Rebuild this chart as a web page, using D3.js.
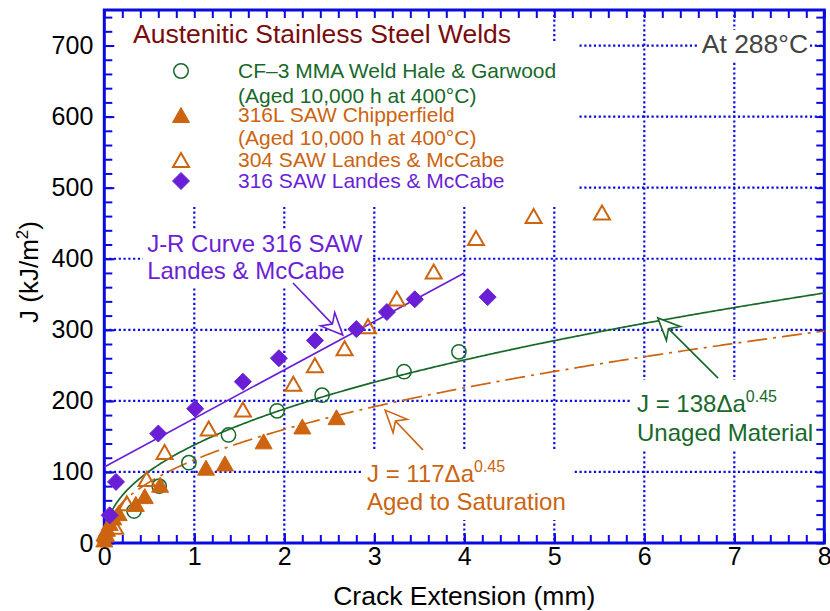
<!DOCTYPE html>
<html><head><meta charset="utf-8">
<script src="https://cdn.jsdelivr.net/npm/d3@7"></script>
<style>
body{margin:0;background:#fff;}
text{font-family:"Liberation Sans",Arial,sans-serif;}
</style></head>
<body><svg id="c" width="830" height="611"></svg>
<script>
// ---------- data ----------
const cf3Circles = [[0.33,45],[0.61,80],[0.94,113],[1.38,152],[1.92,186],[2.42,208],[3.33,241],[3.94,269]];
const saw316LFilled = [[0.0,5],[0.01,12],[0.03,20],[0.06,28],[0.10,36],[0.16,42],[0.35,55],[0.45,66],[0.62,82],[1.13,106],[1.34,112],[1.77,143],[2.20,164],[2.58,177]];
const saw304Open = [[0.01,14],[0.12,23],[0.25,56],[0.47,90],[0.67,128],[1.16,161],[1.54,188],[2.10,224],[2.34,250],[2.67,274],[2.93,305],[3.25,344],[3.66,382],[4.13,429],[4.77,460],[5.53,465]];
const saw316Diamonds = [[0.06,39],[0.13,86],[0.60,154],[1.01,189],[1.54,227],[1.94,260],[2.34,285],[2.80,301],[3.14,325],[3.45,343],[4.26,346]];
const jrLine316 = [[0,107],[4,380]];
const fitCoef = [138, 117];      // unaged, aged to saturation
const fitExp = 0.45;
const fitStart = [0.05, 0.1];
const xTicks = [0,1,2,3,4,5,6,7,8];
const yTicks = [0,100,200,300,400,500,600,700];
const legendLabels = ["CF\u20133 MMA Weld Hale & Garwood","(Aged 10,000 h at 400\u00b0C)","316L SAW Chipperfield","(Aged 10,000 h at 400\u00b0C)","304 SAW Landes & McCabe","316 SAW Landes & McCabe"];

// ---------- styles ----------
const C = {green:"#17692a", orange:"#cc6410", purple:"#6a1fd6", title:"#7a0c0c", blue:"#0a0ae0", gray:"#444"};
const FONT = '"Liberation Sans",Arial,sans-serif';

const svg = d3.select("#c");
const x = d3.scaleLinear([0,8],[104.3,824.3]);
const y = d3.scaleLinear([0,750],[543,10]);

// ---------- grid ----------
const grid = svg.append("g");
xTicks.filter(d=>d>0&&d<8).forEach(d=>grid.append("line").attr("x1",x(d)).attr("x2",x(d)).attr("y1",y(750)).attr("y2",y(0)));
yTicks.filter(d=>d>0).forEach(d=>grid.append("line").attr("x1",x(0)).attr("x2",x(8)).attr("y1",y(d)).attr("y2",y(d)));
grid.selectAll("line").attr("stroke",C.blue).attr("stroke-width",2.2).attr("stroke-dasharray","2.2,2.6");

// white knockouts behind text blocks
const boxes = [[105,12,530,42],[105,42,577,207],[698,30,810,62],[143,230,372,287],[630,380,822,450],[362,450,572,520],[362,450,380,541]];
svg.append("g").selectAll("rect").data(boxes).join("rect")
  .attr("x",d=>d[0]).attr("y",d=>d[1]).attr("width",d=>d[2]-d[0]).attr("height",d=>d[3]-d[1]).attr("fill","#fff");

// ---------- axes ----------
function styleAxis(g){g.select(".domain").remove();g.selectAll("line").attr("stroke",C.blue).attr("stroke-width",2);g.selectAll("text").attr("font-size",25).attr("fill","#000").attr("font-family",FONT);}
const minorX = d3.range(0,8.001,0.2), minorY = d3.range(0,750.1,20);
svg.append("g").attr("transform",`translate(0,${y(0)})`).call(d3.axisBottom(x).tickValues(minorX).tickSize(-8).tickFormat("")).call(styleAxis);
svg.append("g").attr("transform",`translate(0,${y(0)})`).call(d3.axisBottom(x).tickValues(xTicks).tickSize(-10).tickPadding(4).tickFormat(d3.format("d"))).call(styleAxis);
svg.append("g").attr("transform",`translate(0,${y(750)})`).call(d3.axisTop(x).tickValues(minorX).tickSize(-8).tickFormat("")).call(styleAxis);
svg.append("g").attr("transform",`translate(${x(0)},0)`).call(d3.axisLeft(y).tickValues(minorY).tickSize(-8).tickFormat("")).call(styleAxis);
svg.append("g").attr("transform",`translate(${x(0)},0)`).call(d3.axisLeft(y).tickValues(yTicks).tickSize(-10).tickPadding(11).tickFormat(d3.format("d"))).call(styleAxis);
svg.append("g").attr("transform",`translate(${x(8)},0)`).call(d3.axisRight(y).tickValues(minorY).tickSize(-8).tickFormat("")).call(styleAxis);
svg.append("rect").attr("x",x(0)).attr("y",y(750)).attr("width",x(8)-x(0)).attr("height",y(0)-y(750)).attr("fill","none").attr("stroke",C.blue).attr("stroke-width",3);

// axis titles
svg.append("text").attr("x",(x(0)+x(8))/2).attr("y",605).attr("text-anchor","middle").attr("font-size",26.5).text("Crack Extension (mm)");
const yt = svg.append("text").attr("transform","translate(38,272) rotate(-90)").attr("text-anchor","middle").attr("font-size",26);
yt.append("tspan").text("J (kJ/m");
yt.append("tspan").attr("font-size",17).attr("dy",-10).text("2");
yt.append("tspan").attr("dy",10).text(")");

// ---------- curves ----------
const line = d3.line().x(d=>x(d[0])).y(d=>y(d[1]));
svg.append("path").datum(jrLine316).attr("d",line).attr("fill","none").attr("stroke",C.purple).attr("stroke-width",1.6);
const fitColors = [C.green, C.orange], fitDash = [null, "20,6,3,6"];
fitCoef.forEach((k,i)=>{
  const pts = d3.range(fitStart[i], 8.0001, 0.02).concat([8]).map(a=>[a, k*Math.pow(a,fitExp)]);
  svg.append("path").datum(pts).attr("d",line).attr("fill","none").attr("stroke",fitColors[i]).attr("stroke-width",1.7).attr("stroke-dasharray",fitDash[i]);
});

// ---------- markers ----------
const tri = (w,h)=>`M0,${-h/2}L${w/2},${h/2}L${-w/2},${h/2}Z`;
const dia = r=>`M0,${-r}L${r},0L0,${r}L${-r},0Z`;
function markers(data, path, fill, stroke, sw){
  svg.append("g").selectAll("path").data(data).join("path")
    .attr("transform",d=>`translate(${x(d[0])},${y(d[1])})`).attr("d",path)
    .attr("fill",fill).attr("stroke",stroke).attr("stroke-width",sw);
}
markers(cf3Circles, d3.symbol(d3.symbolCircle, 160)(), "none", C.green, 1.5);
markers(saw316LFilled, tri(17,15), C.orange, C.orange, 1);
markers(saw304Open, tri(16,14), "none", C.orange, 2);
markers(saw316Diamonds, dia(8.5), C.purple, C.purple, 1);

// ---------- legend ----------
svg.append("text").attr("x",133).attr("y",43).attr("font-size",26.5).attr("fill",C.title).text("Austenitic Stainless Steel Welds");
const lg = svg.append("g");
const lgBase = [78,103,122,145,167,188];
const lgColor = [C.green,C.green,C.orange,C.orange,C.orange,C.purple];
legendLabels.forEach((t,i)=>lg.append("text").attr("x",238).attr("y",lgBase[i]).attr("font-size",21).attr("fill",lgColor[i]).text(t));
lg.append("path").attr("transform","translate(181,71)").attr("d",d3.symbol(d3.symbolCircle,165)()).attr("fill","none").attr("stroke",C.green).attr("stroke-width",1.5);
lg.append("path").attr("transform","translate(181,115)").attr("d",tri(17,15)).attr("fill",C.orange).attr("stroke",C.orange);
lg.append("path").attr("transform","translate(181,160)").attr("d",tri(16,14)).attr("fill","none").attr("stroke",C.orange).attr("stroke-width",2);
lg.append("path").attr("transform","translate(181,181)").attr("d",dia(8.5)).attr("fill",C.purple).attr("stroke",C.purple);

svg.append("text").attr("x",x(7.82)).attr("y",y(689)).attr("text-anchor","end").attr("font-size",26.5).attr("fill",C.gray).text("At 288\u00b0C");

// ---------- annotations ----------
function label(ax, ay, lines, color, sup){
  const g = svg.append("g");
  lines.forEach((t,i)=>{
    const tx = g.append("text").attr("x",x(ax)).attr("y",y(ay[i])).attr("font-size",24).attr("fill",color);
    if(i===0 && sup){ tx.append("tspan").text(t); tx.append("tspan").attr("font-size",16).attr("dy",-10).text(sup); }
    else tx.text(t);
  });
}
label(0.476,[409.5,371.5],["J-R Curve 316 SAW","Landes & McCabe"],C.purple,null);
label(5.919,[184.3,143.5],["J = 138\u0394a","Unaged Material"],C.green,"0.45");
label(2.919,[85.8,46.4],["J = 117\u0394a","Aged to Saturation"],C.orange,"0.45");

function arrow(from, to, color){
  const x0=x(from[0]), y0=y(from[1]), x1=x(to[0]), y1=y(to[1]);
  const ang = Math.atan2(y1-y0, x1-x0), L=24, W=0.42, N=15;
  const bx = (l,a)=>[x1-l*Math.cos(ang+a), y1-l*Math.sin(ang+a)];
  const p1=bx(L,W), p2=bx(L,-W), n=bx(N,0);
  svg.append("line").attr("x1",x0).attr("y1",y0).attr("x2",n[0]).attr("y2",n[1]).attr("stroke",color).attr("stroke-width",1.6);
  svg.append("path").attr("d",`M${x1},${y1}L${p1}L${n}L${p2}Z`).attr("fill","#fff").attr("stroke",color).attr("stroke-width",1.6);
}
arrow([2.097,365.8],[2.65,292.7],C.purple);
arrow([6.82,232],[6.15,316.6],C.green);
arrow([3.54,131],[3.12,187],C.orange);
</script></body></html>
